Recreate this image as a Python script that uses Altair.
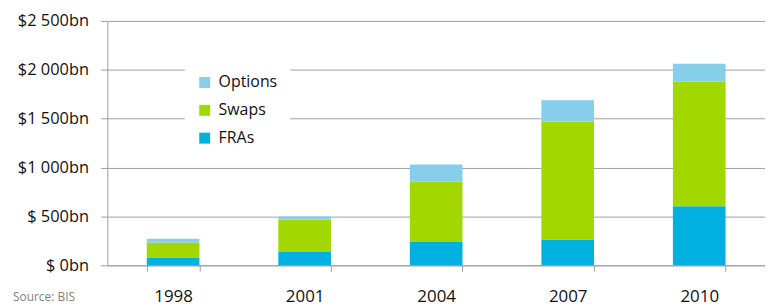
import altair as alt
import pandas as pd

years = ["1998", "2001", "2004", "2007", "2010"]
fras = [81, 136, 238, 264, 604]
swaps = [153, 332, 616, 1208, 1274]
options = [37, 30, 177, 216, 183]

series = ["Options", "Swaps", "FRAs"]
colors = ["#87CEEB", "#A2D700", "#00B0E0"]
stack_rank = {"FRAs": 0, "Swaps": 1, "Options": 2}

rows = []
for i, y in enumerate(years):
    for name, vals in (("FRAs", fras), ("Swaps", swaps), ("Options", options)):
        rows.append({"year": y, "series": name, "value": vals[i], "rank": stack_rank[name]})
df = pd.DataFrame(rows)

FONT = "Open Sans"

label_expr = ("datum.value >= 1000 ? '$' + floor(datum.value/1000) + ' ' + "
              "format(datum.value % 1000, '03d') + 'bn' : '$ ' + datum.value + 'bn'")

bars = alt.Chart(df).mark_bar(size=53).encode(
    x=alt.X("year:N", sort=years, title=None,
            scale=alt.Scale(paddingInner=0.6, paddingOuter=0.3),
            axis=alt.Axis(labelAngle=0, labelFontSize=17, labelFont=FONT, labelColor="#111111",
                          labelPadding=17, tickBand="extent", ticks=True, tickSize=6,
                          tickColor="#A0A0A0", domainColor="#A0A0A0", grid=False)),
    y=alt.Y("value:Q", stack="zero", title=None,
            scale=alt.Scale(domain=[0, 2500], nice=False),
            axis=alt.Axis(values=[0, 500, 1000, 1500, 2000, 2500], labelExpr=label_expr,
                          labelFontSize=16.5, labelFont=FONT, labelColor="#111111",
                          labelPadding=12, tickSize=7, tickColor="#A0A0A0",
                          domainColor="#A0A0A0", gridColor="#A0A0A0", grid=True)),
    color=alt.Color("series:N", scale=alt.Scale(domain=series, range=colors),
                    legend=alt.Legend(title=None, orient="none", legendX=78, legendY=42,
                                      fillColor="white", padding=12, symbolType="square",
                                      symbolSize=121, symbolStrokeWidth=0, labelFontSize=16,
                                      labelFont=FONT, labelColor="#111111", labelOffset=6,
                                      rowPadding=12, labelLimit=200)),
    order=alt.Order("rank:Q", sort="ascending"),
)

source = alt.Chart(pd.DataFrame({"t": ["Source: BIS"]})).mark_text(
    align="left", baseline="middle", fontSize=12, font=FONT, color="#7F7F7F"
).encode(x=alt.value(-95), y=alt.value(278), text="t:N")

chart = alt.layer(bars, source).properties(
    width=662, height=246,
    autosize=alt.AutoSizeParams(type="none"),
    padding={"left": 100, "top": 12, "right": 0, "bottom": 45},
).configure_view(stroke=None).configure_axis(gridWidth=1, domainWidth=1)

chart.save("out.html", embed_options={"renderer": "svg", "actions": False})
